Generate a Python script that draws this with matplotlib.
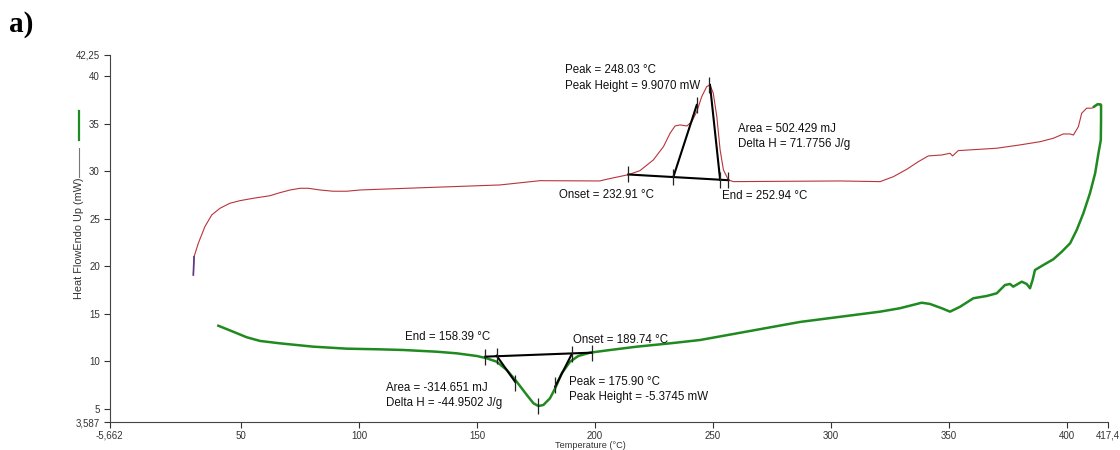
import matplotlib
matplotlib.use("Agg")
import matplotlib.pyplot as plt
from matplotlib.lines import Line2D

plt.rcParams['font.family'] = ['Liberation Sans', 'DejaVu Sans']

# ---- heating curve (red) ----
heat_T = [29.8, 30.1, 31.9, 34.7, 37.6, 41.1, 45.3, 49.6, 55.2, 62.3, 66.5, 70.8, 75.0, 78.5,
          83.5, 89.0, 94.8, 100.4, 108.9, 159.7, 176.7, 202.0, 205.0, 214.1, 219.0, 224.7,
          229.0, 231.8, 233.9, 236.0, 238.9, 241.0, 243.1, 245.2, 247.3, 248.7, 250.1, 251.6,
          253.0, 254.4, 256.5, 258.6, 303.8, 320.8, 326.4, 332.1, 337.0, 341.2, 346.9, 350.4,
          351.5, 353.9, 363.1, 370.2, 380.1, 388.6, 394.2, 398.4, 401.3, 402.7, 404.8, 406.2,
          408.3, 410.5, 411.9, 413.3, 414.3]
heat_HF = [19.09, 21.0, 22.42, 24.17, 25.4, 26.1, 26.63, 26.9, 27.15, 27.42, 27.74, 28.02, 28.2, 28.2,
           28.02, 27.89, 27.89, 28.02, 28.1, 28.55, 29.0, 28.97, 29.15, 29.63, 30.05, 31.18,
           32.58, 33.99, 34.75, 34.86, 34.75, 35.2, 36.26, 37.83, 38.88, 39.07, 38.19, 35.73,
           32.23, 30.13, 29.08, 28.9, 28.97, 28.9, 29.42, 30.2, 31.0, 31.6, 31.7, 31.88,
           31.6, 32.16, 32.3, 32.41, 32.76, 33.1, 33.46, 33.91, 33.91, 33.8, 34.68, 36.09,
           36.62, 36.62, 36.78, 37.07, 37.07]

# ---- cooling curve (green) ----
cool_T = [40.4, 46.7, 52.4, 58.1, 66.5, 80.6, 94.8, 108.9, 118.8, 132.9, 141.4, 149.9, 154.1,
          158.3, 162.6, 166.8, 171.1, 173.9, 176.0, 178.1, 180.9, 183.1, 185.9, 189.4, 192.9,
          197.9, 206.4, 217.7, 231.8, 244.5, 286.9, 320.8, 329.2, 338.4, 341.9, 346.9, 350.4,
          354.7, 360.3, 366.0, 370.2, 373.7, 375.8, 377.2, 380.8, 382.9, 384.3, 385.4, 386.4,
          390.0, 394.2, 397.8, 401.3, 404.1, 406.9, 409.7, 411.9, 413.3, 414.3, 414.4, 414.4,
          413.0, 411.4]
cool_HF = [13.75, 13.12, 12.54, 12.15, 11.9, 11.55, 11.34, 11.27, 11.2, 11.02, 10.85, 10.57, 10.33,
           9.97, 9.1, 7.87, 6.47, 5.6, 5.31, 5.42, 6.12, 7.17, 8.75, 9.97, 10.57,
           10.92, 11.2, 11.55, 11.9, 12.25, 14.15, 15.23, 15.59, 16.17, 16.04, 15.59, 15.23,
           15.75, 16.64, 16.88, 17.16, 18.03, 18.14, 17.86, 18.38, 18.14, 17.69, 18.56, 19.61,
           20.14, 20.74, 21.54, 22.42, 23.82, 25.57, 27.68, 29.78, 31.88, 33.28, 35.38, 36.96,
           37.05, 36.78]

# ---- peak analysis constructions ----
red_base_T = [214.1, 256.5]
red_base_HF = [29.65, 29.05]
red_rise_T = [233.2, 243.1]
red_rise_HF = [29.4, 36.96]
red_fall_T = [248.7, 253.0]
red_fall_HF = [39.07, 29.1]
red_tick_T = [214.1, 233.2, 253.0, 256.5, 243.1, 248.4]
red_tick_HF = [29.65, 29.4, 29.1, 29.05, 36.96, 39.1]

green_base_T = [153.5, 198.6]
green_base_HF = [10.5, 10.92]
green_left_T = [158.3, 166.1]
green_left_HF = [10.6, 7.87]
green_right_T = [183.1, 190.1]
green_right_HF = [7.34, 10.75]
green_tick_T = [153.5, 158.3, 190.1, 198.6, 166.1, 183.1, 176.0]
green_tick_HF = [10.5, 10.55, 10.75, 10.9, 7.75, 7.5, 5.3]

x_ticks = [-5.662, 50, 100, 150, 200, 250, 300, 350, 400, 417.4]
x_tick_labels = ["-5,662", "50", "100", "150", "200", "250", "300", "350", "400", "417,4"]
y_ticks = [3.587, 5, 10, 15, 20, 25, 30, 35, 40, 42.25]
y_tick_labels = ["3,587", "5", "10", "15", "20", "25", "30", "35", "40", "42,25"]

fig = plt.figure(figsize=(11.2, 4.5), dpi=100)
ax = fig.add_axes([0.0979, 0.0613, 0.8915, 0.8173])

red = "#b8343a"
green = "#1f8a1f"
ax.plot(heat_T, heat_HF, color=red, lw=0.8, zorder=3)
ax.plot(heat_T[:2], heat_HF[:2], color="#5a3a8a", lw=1.2, zorder=4)
ax.plot(cool_T, cool_HF, color=green, lw=1.8, zorder=3)

for xs, ys in [(red_base_T, red_base_HF), (red_rise_T, red_rise_HF), (red_fall_T, red_fall_HF),
               (green_base_T, green_base_HF), (green_left_T, green_left_HF),
               (green_right_T, green_right_HF)]:
    ax.plot(xs, ys, color="black", lw=1.5, zorder=5)
ax.plot(red_tick_T, red_tick_HF, ls="none", marker="|", ms=12, mew=0.9, color="#222222", zorder=6)
ax.plot(green_tick_T, green_tick_HF, ls="none", marker="|", ms=12, mew=0.9, color="#222222", zorder=6)

fs = 8.3
tc = "#111111"
ax.text(187.3, 40.64, "Peak = 248.03 °C", fontsize=fs, va="center", color=tc)
ax.text(187.3, 38.96, "Peak Height = 9.9070 mW", fontsize=fs, va="center", color=tc)
ax.text(260.6, 34.44, "Area = 502.429 mJ", fontsize=fs, va="center", color=tc)
ax.text(260.6, 32.87, "Delta H = 71.7756 J/g", fontsize=fs, va="center", color=tc)
ax.text(184.7, 27.5, "Onset = 232.91 °C", fontsize=fs, va="center", color=tc)
ax.text(253.8, 27.39, "End = 252.94 °C", fontsize=fs, va="center", color=tc)
ax.text(119.5, 12.57, "End = 158.39 °C", fontsize=fs, va="center", color=tc)
ax.text(190.7, 12.25, "Onset = 189.74 °C", fontsize=fs, va="center", color=tc)
ax.text(111.4, 7.2, "Area = -314.651 mJ", fontsize=fs, va="center", color=tc)
ax.text(111.4, 5.63, "Delta H = -44.9502 J/g", fontsize=fs, va="center", color=tc)
ax.text(189.0, 7.84, "Peak = 175.90 °C", fontsize=fs, va="center", color=tc)
ax.text(189.0, 6.26, "Peak Height = -5.3745 mW", fontsize=fs, va="center", color=tc)

ax.set_xlim(x_ticks[0], x_ticks[-1])
ax.set_ylim(y_ticks[0], y_ticks[-1])
ax.set_xticks(x_ticks)
ax.set_xticklabels(x_tick_labels)
ax.set_yticks(y_ticks)
ax.set_yticklabels(y_tick_labels)
ax.tick_params(labelsize=7, colors="#333333", length=4, width=0.8, pad=3)
ax.tick_params(axis="x", pad=2)
for s in ["top", "right"]:
    ax.spines[s].set_visible(False)
for s in ["left", "bottom"]:
    ax.spines[s].set_color("#444444")
    ax.spines[s].set_linewidth(0.8)

# y label with legend-like line swatches
fig.text(79 / 1120, 1 - 238 / 450, "Heat FlowEndo Up (mW)", rotation=90, fontsize=7.8,
         ha="center", va="center", color="#333333")
fig.add_artist(Line2D([79 / 1120, 79 / 1120], [1 - 148 / 450, 1 - 177 / 450], color="#777777", lw=0.8))
fig.add_artist(Line2D([79 / 1120, 79 / 1120], [1 - 111 / 450, 1 - 140 / 450], color=green, lw=1.6))

fig.text(590 / 1120, 0.0, "Temperature (°C)", fontsize=6.6, ha="center", va="bottom", color="#333333")

fig.text(9 / 1120, 1 - 24 / 450, "a)", fontsize=21, fontweight="bold", family="Liberation Serif",
         ha="left", va="center")

fig.savefig("out.png", dpi=100)
